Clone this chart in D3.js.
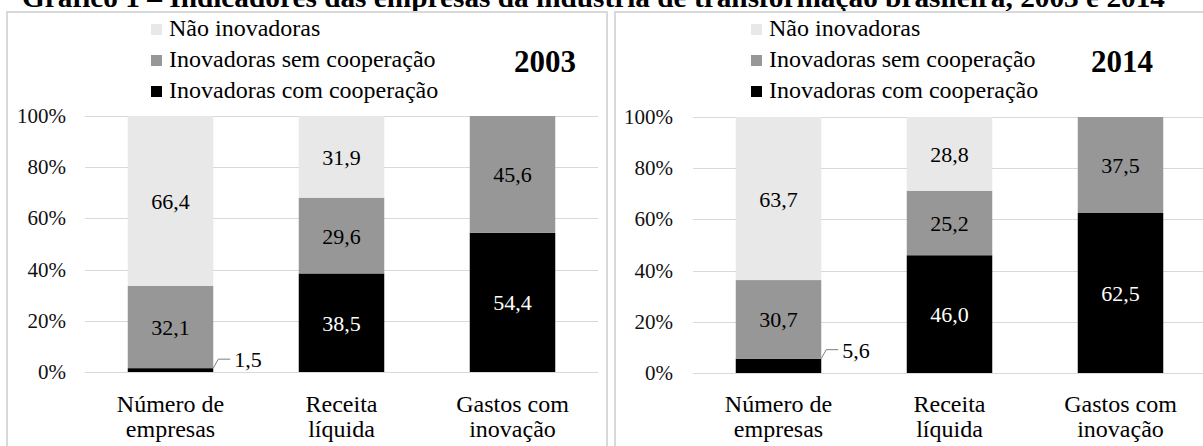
<!DOCTYPE html>
<html>
<head>
<meta charset="utf-8">
<script src="https://cdn.jsdelivr.net/npm/d3@7"></script>
<style>
  html, body { margin: 0; padding: 0; background: #fff; }
  svg { display: block; font-family: "Liberation Serif", "Times New Roman", serif; }
</style>
</head>
<body>
<svg id="chart" width="1203" height="446"></svg>
<script>
// ---- Data ----
const categories = ["Número de\nempresas", "Receita\nlíquida", "Gastos com\ninovação"];
const seriesNames = ["Inovadoras com cooperação", "Inovadoras sem cooperação", "Não inovadoras"];
const legendOrder = ["Não inovadoras", "Inovadoras sem cooperação", "Inovadoras com cooperação"];
const years = ["2003", "2014"];
const comCooperacao2003 = [1.5, 38.5, 54.4];
const semCooperacao2003 = [32.1, 29.6, 45.6];
const naoInovadoras2003 = [66.4, 31.9, 0];
const comCooperacao2014 = [5.6, 46.0, 62.5];
const semCooperacao2014 = [30.7, 25.2, 37.5];
const naoInovadoras2014 = [63.7, 28.8, 0];
const yTicks = [0, 20, 40, 60, 80, 100];
const titleText = "Gráfico 1 – Indicadores das empresas da indústria de transformação brasileira, 2003 e 2014";

const colors = {
  "Não inovadoras": "#e8e8e8",
  "Inovadoras sem cooperação": "#979797",
  "Inovadoras com cooperação": "#000000"
};
const labelColors = {
  "Não inovadoras": "#000",
  "Inovadoras sem cooperação": "#000",
  "Inovadoras com cooperação": "#fff"
};

const svg = d3.select("#chart");

// Title, only its lower part is visible (cropped as in the reference)
svg.append("text")
  .attr("x", 22).attr("y", 7)
  .attr("font-size", 27).attr("font-weight", "bold")
  .attr("textLength", 1143).attr("lengthAdjust", "spacingAndGlyphs")
  .text(titleText);

const panels = [
  { year: years[0], com: comCooperacao2003, sem: semCooperacao2003, nao: naoInovadoras2003,
    box: [7, 12, 600, 440], x0: 85, x1: 598, y0: 372, y1: 116, tickX: 66,
    legX: 151, yearX: 545 },
  { year: years[1], com: comCooperacao2014, sem: semCooperacao2014, nao: naoInovadoras2014,
    box: [615, 12, 600, 440], x0: 693, x1: 1206, y0: 373, y1: 117, tickX: 673,
    legX: 751, yearX: 1122 }
];

panels.forEach(p => {
  const g = svg.append("g");
  g.append("rect")
    .attr("x", p.box[0]).attr("y", p.box[1])
    .attr("width", p.box[2]).attr("height", p.box[3])
    .attr("fill", "none").attr("stroke", "#d9d9d9").attr("stroke-width", 2);

  const x = d3.scaleBand().domain(categories).range([p.x0, p.x1])
    .paddingInner(0.5).paddingOuter(0.25);
  const y = d3.scaleLinear().domain([0, 100]).range([p.y0, p.y1]);

  g.append("g").selectAll("line").data(yTicks).join("line")
    .attr("x1", p.x0).attr("x2", p.x1)
    .attr("y1", d => Math.round(y(d)) + 0.5).attr("y2", d => Math.round(y(d)) + 0.5)
    .attr("stroke", "#d9d9d9").attr("stroke-width", 1);

  g.append("g").selectAll("text").data(yTicks).join("text")
    .attr("x", p.tickX).attr("y", d => y(d) + 7)
    .attr("text-anchor", "end").attr("font-size", 21).attr("fill", "#111")
    .text(d => d + "%");

  const rows = categories.map((c, i) => ({
    cat: c,
    "Inovadoras com cooperação": p.com[i],
    "Inovadoras sem cooperação": p.sem[i],
    "Não inovadoras": p.nao[i]
  }));
  const stack = d3.stack().keys(seriesNames)(rows);

  stack.forEach(layer => {
    const key = layer.key;
    g.append("g").selectAll("rect").data(layer).join("rect")
      .attr("x", d => x(d.data.cat))
      .attr("width", x.bandwidth())
      .attr("y", d => y(d[1]))
      .attr("height", d => y(d[0]) - y(d[1]))
      .attr("fill", colors[key]);

    layer.forEach(d => {
      const v = d[1] - d[0];
      if (v <= 0) return;
      const label = d3.format(".1f")(v).replace(".", ",");
      if (v < 10) {
        const bx = x(d.data.cat) + x.bandwidth();
        const by = y(d[1]);
        g.append("path")
          .attr("d", `M${bx},${by} L${bx + 5},${by - 9} L${bx + 17},${by - 9}`)
          .attr("fill", "none").attr("stroke", "#7f7f7f").attr("stroke-width", 1);
        g.append("text")
          .attr("x", bx + 21).attr("y", by - 9 + 8)
          .attr("font-size", 22).attr("fill", "#000")
          .text(label);
      } else {
        g.append("text")
          .attr("x", x(d.data.cat) + x.bandwidth() / 2)
          .attr("y", y((d[0] + d[1]) / 2) + 8)
          .attr("text-anchor", "middle").attr("font-size", 22)
          .attr("fill", labelColors[key])
          .text(label);
      }
    });
  });

  categories.forEach(c => {
    const lines = c.split("\n");
    const t = g.append("text")
      .attr("text-anchor", "middle").attr("font-size", 24).attr("fill", "#000");
    lines.forEach((ln, k) => {
      t.append("tspan")
        .attr("x", x(c) + x.bandwidth() / 2)
        .attr("y", 412 + k * 25)
        .text(ln);
    });
  });

  legendOrder.forEach((name, k) => {
    const by = 36 + k * 31;
    g.append("rect")
      .attr("x", p.legX).attr("y", by - 12)
      .attr("width", 11).attr("height", 11)
      .attr("fill", colors[name]);
    g.append("text")
      .attr("x", p.legX + 18).attr("y", by)
      .attr("font-size", 24).attr("fill", "#000")
      .text(name);
  });

  g.append("text")
    .attr("x", p.yearX).attr("y", 72)
    .attr("text-anchor", "middle").attr("font-size", 31).attr("font-weight", "bold")
    .attr("fill", "#000")
    .text(p.year);
});
</script>
</body>
</html>
